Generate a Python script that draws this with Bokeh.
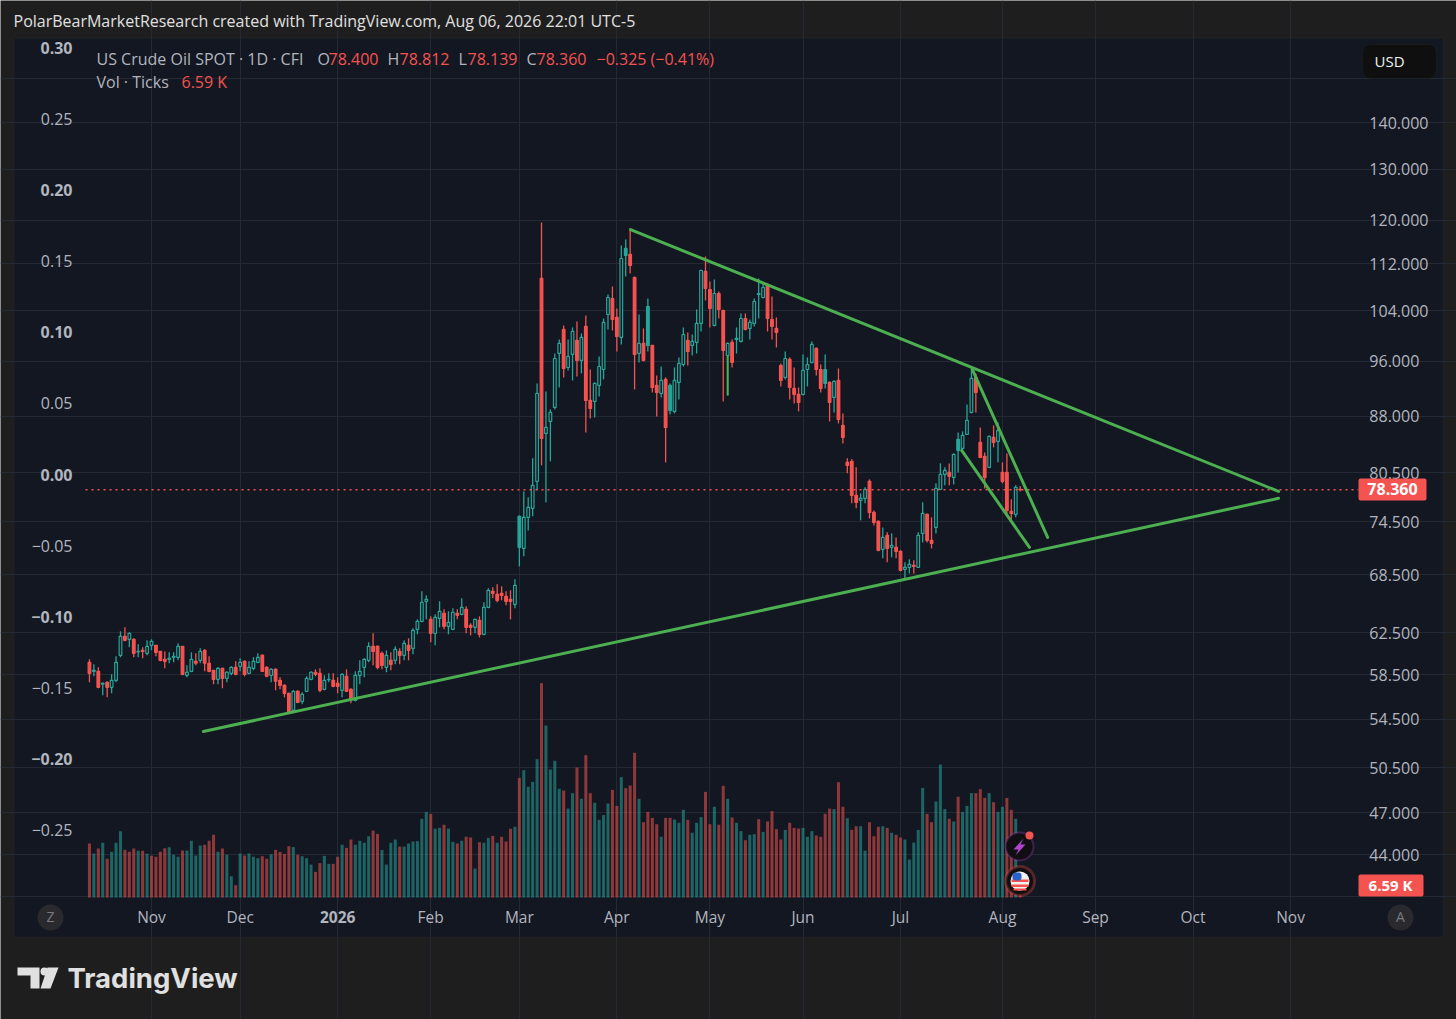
from bokeh.embed import file_html
from bokeh.resources import INLINE
from bokeh.plotting import figure
from bokeh.models import (ColumnDataSource, Range1d, LinearScale, LinearAxis, FixedTicker,
                          PrintfTickFormatter, BoxAnnotation, PolyAnnotation, Label)

opens = [59.64,58.80,58.80,57.61,57.79,57.33,57.97,60.30,62.14,61.85,
61.85,60.63,60.78,60.49,61.26,61.26,60.68,59.92,59.92,60.11,
60.11,61.17,58.43,58.80,59.73,59.83,60.78,59.55,58.89,58.06,
59.08,58.15,58.61,59.17,59.26,59.73,58.61,59.08,59.64,60.30,
59.17,58.43,58.98,57.97,57.51,56.79,55.28,56.97,56.07,56.97,
58.06,58.71,58.61,57.15,58.02,57.97,57.70,57.06,58.34,57.15,
56.16,58.43,59.17,59.83,61.17,61.17,60.49,59.17,59.83,59.83,
60.68,60.30,61.26,60.97,62.83,63.63,65.68,63.83,62.44,63.93,
64.44,63.13,62.83,64.44,64.34,64.85,63.23,63.03,63.73,62.34,
65.06,66.72,66.41,66.51,66.20,65.88,65.37,75.12,71.41,75.00,
76.08,79.39,109.41,85.64,87.28,89.23,97.18,100.94,95.05,97.03,
99.20,96.11,101.42,90.23,90.09,92.39,94.75,103.35,106.00,102.87,
99.67,114.73,113.64,109.58,97.18,98.73,104.67,98.42,92.39,91.23,
93.27,92.39,88.67,92.83,95.50,99.20,98.42,98.89,101.90,110.63,
107.52,101.58,106.84,104.01,96.87,98.89,99.36,99.04,102.70,101.10,
101.90,106.67,106.17,108.20,102.54,101.10,95.35,93.57,96.26,91.95,
91.09,91.09,94.75,95.81,97.95,94.75,94.75,92.83,90.66,93.12,
86.73,81.81,81.94,77.65,77.04,77.29,79.39,75.59,74.52,71.30,
72.89,71.53,71.53,71.08,69.08,69.30,69.52,69.30,73.12,75.36,
72.32,73.82,78.39,80.27,80.52,79.89,84.83,83.63,85.51,88.53,
93.57,84.43,82.59,81.17,85.10,84.57,80.52,80.52,75.71,75.36,
78.40]
closes = [58.61,58.89,57.33,57.70,57.33,57.97,59.64,62.14,61.75,62.44,
60.49,60.68,60.68,61.17,61.65,60.59,59.83,59.73,60.02,60.21,
61.17,58.52,58.71,59.92,59.55,60.68,59.55,58.80,58.06,59.08,
58.15,58.71,59.17,58.52,59.64,58.52,59.17,59.73,60.11,58.80,
58.34,58.98,57.88,57.51,56.79,55.10,56.97,55.98,56.70,58.15,
58.71,58.52,57.06,57.97,58.06,57.42,57.42,58.52,56.97,56.34,
58.43,58.80,59.92,61.17,60.68,59.17,59.36,60.30,59.45,60.88,
60.30,61.46,60.78,62.73,63.63,65.58,65.88,62.44,64.04,64.65,
63.13,63.53,64.55,64.24,65.06,63.03,63.03,63.83,62.34,65.06,
66.83,66.51,65.78,66.30,65.68,65.68,67.36,71.53,75.00,76.20,
78.89,91.23,84.97,86.46,88.53,96.41,98.73,94.90,96.72,100.62,
96.11,99.67,90.23,89.09,92.68,95.20,102.06,106.17,102.54,99.83,
112.92,113.46,111.68,97.03,98.73,96.11,98.42,92.09,91.37,93.12,
86.46,88.81,93.12,95.66,100.14,97.49,99.04,101.90,110.80,107.69,
104.34,106.84,104.18,97.64,98.73,95.81,99.51,102.70,100.94,102.06,
105.50,106.84,107.86,102.70,101.42,100.46,93.12,96.41,92.09,91.09,
89.94,94.61,95.50,98.58,94.75,91.95,92.68,89.94,92.97,87.56,
85.10,81.42,77.65,76.80,77.29,78.39,75.59,74.41,71.19,72.66,
71.41,71.75,71.08,68.97,69.30,69.63,69.41,72.89,75.47,72.32,
71.98,78.51,80.27,80.78,80.02,82.84,83.37,85.37,87.42,93.42,
91.37,82.46,79.89,85.24,84.43,86.05,79.39,75.83,75.47,78.64,
78.36]
highs = [59.92,59.45,59.17,57.79,57.88,58.52,60.21,62.63,63.03,62.53,
61.95,61.36,61.07,61.75,61.85,61.30,60.72,60.68,60.59,60.59,
61.46,61.20,59.36,60.59,60.49,60.97,60.88,60.21,58.93,59.17,
59.12,58.80,59.26,59.73,60.02,59.83,59.73,60.11,60.49,60.40,
59.26,59.08,59.08,58.25,57.61,56.85,57.06,57.06,56.88,58.34,
58.80,58.98,59.08,58.43,58.61,58.61,58.25,58.61,58.98,57.24,
58.80,59.83,60.02,61.56,62.44,61.26,60.68,60.78,60.59,61.17,
60.97,61.75,61.95,62.93,63.83,66.72,66.30,64.14,64.34,65.68,
64.85,64.65,64.95,64.85,65.99,65.16,63.43,63.93,64.14,65.58,
67.04,67.15,67.47,67.25,66.72,66.83,68.00,75.24,78.14,77.41,
82.33,92.68,119.53,91.52,88.95,97.18,99.36,101.58,99.36,101.26,
102.22,100.30,103.19,94.75,92.83,96.72,102.70,106.67,108.03,104.34,
115.27,116.36,118.40,109.76,103.35,101.10,106.00,98.50,93.86,95.20,
93.57,92.68,95.05,96.57,101.26,100.46,100.14,104.18,110.97,113.28,
108.89,109.24,107.18,104.18,98.89,99.36,101.26,103.52,103.52,102.54,
106.00,109.41,108.72,108.55,106.34,102.87,95.66,97.49,96.57,95.05,
92.09,97.03,96.57,99.04,98.11,95.50,97.03,92.97,93.12,94.90,
88.39,82.33,82.20,81.17,77.90,78.64,79.64,75.83,74.64,73.82,
73.24,73.12,72.66,71.19,69.85,70.18,70.07,73.24,76.80,75.47,
75.00,79.14,81.68,81.17,81.68,82.97,85.78,85.91,89.66,94.90,
94.16,86.46,83.11,85.37,86.73,87.14,81.81,82.97,77.17,78.89,
78.812]
lows = [57.79,58.34,57.24,56.61,56.43,56.79,57.79,60.11,61.65,61.07,
60.11,60.11,60.02,60.30,60.78,60.21,59.73,59.08,59.55,59.64,
59.83,58.43,58.25,58.71,59.36,59.55,58.80,58.71,57.61,57.61,
57.24,57.79,58.43,58.43,58.80,58.34,58.52,58.89,59.55,58.75,
58.25,57.79,57.06,57.15,56.43,55.02,55.19,55.90,55.81,56.90,
57.97,58.34,56.88,57.06,57.79,57.33,56.79,56.43,56.93,55.90,
56.07,57.61,58.25,59.64,59.36,58.98,58.98,58.71,58.89,59.45,
59.45,59.83,59.83,60.40,62.34,63.53,63.83,61.56,61.26,63.03,
62.83,62.34,62.73,63.83,64.24,62.44,62.24,62.44,62.04,62.24,
64.95,65.99,65.58,65.78,65.26,63.83,64.95,69.41,70.52,73.47,
75.12,78.27,81.42,76.80,81.94,88.95,92.09,93.57,94.61,93.12,
93.71,94.16,85.78,87.69,87.83,90.80,93.27,100.94,100.78,97.49,
98.58,109.76,110.28,91.80,95.81,95.96,97.49,91.37,87.97,90.66,
81.81,88.25,88.39,90.37,95.20,95.35,96.87,97.18,100.62,105.67,
101.26,101.42,102.70,90.09,90.94,95.05,97.18,98.89,100.78,99.36,
101.42,102.70,106.00,100.62,99.36,98.11,92.24,93.27,90.37,89.80,
88.67,90.94,92.24,95.66,93.86,91.37,91.95,87.28,88.53,87.00,
84.30,80.40,76.68,76.08,74.64,76.68,74.88,74.05,71.08,70.30,
69.85,70.41,70.30,68.86,68.00,68.64,68.64,69.25,72.09,72.09,
71.41,73.12,78.35,78.89,78.89,79.01,80.52,83.50,85.45,88.39,
88.53,82.33,78.51,81.04,83.77,81.81,79.14,75.47,74.76,75.00,
78.139]
# Days drawn as a filled teal body although the close is under the open
filled_up_days = [97, 121, 126, 131, 166, 196]

volumes_k = [29.7,24.2,26.9,30.1,21.3,25.1,30.1,36.5,26.2,25.1,
26.9,25.7,25.7,24.0,22.9,22.4,25.1,27.1,27.7,23.5,
22.4,25.8,25.8,31.2,23.1,28.6,29.0,31.2,34.5,25.1,
26.9,23.5,11.7,6.8,24.2,23.1,24.2,22.4,21.6,22.7,
21.3,23.8,26.2,25.1,24.0,28.2,27.7,23.5,22.7,21.6,
18.1,14.1,18.9,22.9,18.5,18.5,22.4,29.0,27.3,31.9,
29.0,31.2,30.1,33.7,36.8,35.0,26.2,18.1,30.1,31.9,
28.0,28.0,29.7,30.8,31.0,43.3,47.1,46.0,37.8,38.3,
40.0,37.9,30.6,29.7,31.2,33.4,33.0,15.9,30.4,30.1,
32.8,33.9,30.1,33.4,30.8,37.8,38.9,65.8,70.0,60.9,
63.6,76.1,117.9,94.6,70.4,75.2,59.8,58.8,48.9,57.4,
71.5,54.3,78.3,57.4,52.1,42.7,45.3,51.7,59.2,50.4,
66.2,60.1,61.6,79.6,54.3,41.4,47.1,43.8,40.3,33.4,
43.8,43.8,42.9,41.1,48.2,42.7,35.6,41.1,44.2,58.1,
40.3,49.9,40.0,61.4,54.3,44.0,41.1,36.5,31.5,34.5,
34.8,43.1,36.1,41.8,47.5,37.6,31.9,37.2,41.1,38.3,
37.9,38.3,33.4,36.5,34.1,33.4,46.0,48.9,48.6,63.4,
49.9,43.6,37.2,39.2,39.2,25.8,41.4,33.7,38.9,39.2,
38.3,35.6,34.5,33.0,31.9,20.9,30.2,37.2,60.3,46.0,
41.4,52.8,73.1,48.6,43.3,41.8,55.4,47.1,50.4,57.4,
57.4,59.6,54.8,57.4,52.4,47.1,49.9,54.8,48.2,43.3,
6.59]
volume_sides = ("RTRTRTTTRR" "RTRTRRRRTT" "TRTTTTRRRT" "RTTRTRTTTR" "RTRRRRTRTT" "TRRTTRRTRR" "TTTTRRTTTT"
                "RTTTTTTRTT" "RTTRTRRTRT" "TRTRRRTRTT" "TTRTTTTRTT" "RTRRTTTTRR" "TRRRTRRRRT" "RRTTTRTTTR"
                "RTRRTRTTRT" "TRTRRRRTRR" "RTTTRRRRTR" "RTRRTTRRRT" "RTRRTTTTTR" "RTTTRTRTTT" "RRRTRTTRRT" "R")

month_ticks = [14, 34, 77, 97, 119, 140, 161, 183, 206, 227, 249, 271]
month_labels = ["Nov", "Dec", "Feb", "Mar", "Apr", "May", "Jun", "Jul", "Aug", "Sep", "Oct", "Nov"]
year_tick = 56
year_label = "2026"
price_ticks = [140, 130, 120, 112, 104, 96, 88, 80.5, 74.5, 68.5, 62.5, 58.5, 54.5, 50.5, 47, 44]
unlabelled_price_grid = [150, 41.2]
left_ticks_light = [0.25, 0.15, 0.05, -0.05, -0.15, -0.25]
left_labels_light = ["0.25", "0.15", "0.05", "−0.05", "−0.15", "−0.25"]
left_ticks_bold = [0.30, 0.20, 0.10, 0.00, -0.10, -0.20]
left_labels_bold = ["0.30", "0.20", "0.10", "0.00", "−0.10", "−0.20"]

last_close = 78.36
rising_line = ([25.7, 268.3], [53.46, 77.29])
falling_line = ([122.1, 268.3], [118.2, 78.14])
wedge_upper = ([199.2, 216.2], [94.75, 72.66])
wedge_lower = ([196.8, 212.1], [83.37, 71.53])
green_wick = ([144, 144], [96.87, 90.94])

# The plotting frame fills the whole canvas, so the axes sit at fixed locations inside it
PANE_X = (-0.89, 286.3)
PANE_PRICE = (41.1, 159.9)

OUTER = "#1e1e1e"
PANEL = "#131722"
GRID = "#252934"
RED = "#f5534f"
TEAL = "#26a69a"
GREEN = "#4caf50"
TXT = "#b2b5be"
FONT = "Open Sans"

p = figure(width=1456, height=1019, output_backend="svg", toolbar_location=None,
           x_range=Range1d(-20.07, 308.45), y_range=Range1d(33.91, 169.78),
           y_axis_type="log", y_axis_location="right", x_axis_location="below",
           background_fill_color=OUTER, border_fill_color=OUTER, outline_line_color=None,
           min_border_left=0, min_border_right=0, min_border_top=0, min_border_bottom=0)
p.extra_y_ranges = {"spread": Range1d(-0.38277, 0.33302), "vol": Range1d(-67.1, 493.35)}
p.extra_y_scales = {"spread": LinearScale(), "vol": LinearScale()}


def box(l, t, r, b, fill, line=None, lw=1, radius=0, level="annotation"):
    a = BoxAnnotation(left=l, right=r, top=t, bottom=b,
                      left_units="canvas", right_units="canvas", top_units="canvas", bottom_units="canvas",
                      fill_color=fill, fill_alpha=1, line_color=line, line_width=lw,
                      border_radius=radius, level=level)
    p.add_layout(a)


def poly(xs, ys, fill):
    p.add_layout(PolyAnnotation(xs=xs, ys=ys, xs_units="canvas", ys_units="canvas",
                                fill_color=fill, fill_alpha=1, line_color=None))


def lab(x, y, text, color=TXT, size=16, align="left", weight="normal", font=FONT):
    p.add_layout(Label(x=x, y=y, x_units="canvas", y_units="canvas", text=text, text_color=color,
                       text_font=font, text_font_size=f"{size}px", text_align=align,
                       text_baseline="middle", text_font_style=weight))


box(13.5, 37.5, 1442.5, 936.5, PANEL, "#2e2e2e", 1, level="image")

# axes
ax_r = p.yaxis[0]
ax_r.ticker = FixedTicker(ticks=price_ticks)
ax_r.formatter = PrintfTickFormatter(format="%.3f")
ax_r.fixed_location = PANE_X[1]
ax_b = p.xaxis[0]
ax_b.ticker = FixedTicker(ticks=month_ticks)
ax_b.major_label_overrides = dict(zip(month_ticks, month_labels))
ax_b.fixed_location = PANE_PRICE[0]
ax_year = LinearAxis(ticker=FixedTicker(ticks=[year_tick]), major_label_overrides={year_tick: year_label},
                     fixed_location=PANE_PRICE[0])
p.add_layout(ax_year, "below")
ax_l = LinearAxis(y_range_name="spread", ticker=FixedTicker(ticks=left_ticks_light),
                  major_label_overrides=dict(zip(left_ticks_light, left_labels_light)),
                  fixed_location=PANE_X[0])
p.add_layout(ax_l, "left")
ax_l2 = LinearAxis(y_range_name="spread", ticker=FixedTicker(ticks=left_ticks_bold),
                   major_label_overrides=dict(zip(left_ticks_bold, left_labels_bold)),
                   fixed_location=PANE_X[0])
p.add_layout(ax_l2, "left")
for a in (ax_r, ax_b, ax_year, ax_l, ax_l2):
    a.axis_line_color = None
    a.major_tick_line_color = None
    a.minor_tick_line_color = None
    a.major_label_text_color = TXT
    a.major_label_text_font = FONT
    a.major_label_text_font_size = "16px"
ax_r.major_label_standoff = 5
ax_l.major_label_standoff = 7
ax_l2.major_label_standoff = 7
ax_b.major_label_standoff = 2
ax_year.major_label_standoff = 7
ax_b.major_label_text_font_size = "15.5px"
ax_year.major_label_text_font_size = "15.5px"
ax_year.major_label_text_font_style = "bold"
ax_l2.major_label_text_font_style = "bold"

p.xgrid[0].ticker = FixedTicker(ticks=sorted(month_ticks + [year_tick]))
p.ygrid[0].ticker = FixedTicker(ticks=price_ticks + unlabelled_price_grid)
p.xgrid[0].bounds = PANE_PRICE
p.ygrid[0].bounds = PANE_X
for g in (p.xgrid[0], p.ygrid[0]):
    g.grid_line_color = GRID
    g.grid_line_width = 1

# volume
n = len(closes)
idx = list(range(n))
p.vbar(x=idx, top=volumes_k, bottom=0, width=0.68, y_range_name="vol", line_color=None,
       fill_color=[RED if s == "R" else TEAL for s in volume_sides], fill_alpha=0.55)

# candles
up = [(c > o) or (i in filled_up_days) for i, (o, c) in enumerate(zip(opens, closes))]
hollow = [c > o for o, c in zip(opens, closes)]
col = [TEAL if u else RED for u in up]
src = ColumnDataSource(dict(x=idx, o=opens, c=closes, h=highs, l=lows, col=col,
                            fill=[PANEL if h else k for h, k in zip(hollow, col)]))
p.segment(x0="x", x1="x", y0="h", y1="l", color="col", line_width=1.3, source=src)
p.vbar(x="x", top="o", bottom="c", width=0.6, fill_color="fill", line_color="col", line_width=1.2, source=src)

# drawings
p.line(list(PANE_X), [last_close, last_close], line_color=RED, line_width=1.5, line_dash="2 4")
for xs, ys in (rising_line, falling_line, wedge_upper, wedge_lower):
    p.line(xs, ys, line_color=GREEN, line_width=3, line_cap="round")
p.line(*green_wick, line_color=GREEN, line_width=2)

# header, legend
lab(13, 20, "PolarBearMarketResearch created with TradingView.com, Aug 06, 2026 22:01 UTC-5", "#e0e0e0", 16)
lab(96, 58, "US Crude Oil SPOT · 1D · CFI", TXT)
for x, t, c in ((317, "O", TXT), (328, "78.400", RED), (387, "H", TXT), (399, "78.812", RED),
                (458, "L", TXT), (467, "78.139", RED), (526, "C", TXT), (536, "78.360", RED),
                (596, "−0.325 (−0.41%)", RED)):
    lab(x, 58, t, c)
lab(96, 81, "Vol · Ticks", TXT)
lab(181, 81, "6.59 K", RED)

# buttons, price pills
box(1362, 44, 1436, 78, "#0f0f0f", "#2e2e2e", 1, 8)
lab(1374, 60, "USD", "#f0f0f0", 15)
box(1358, 478, 1426, 500, RED, None, 0, 2)
lab(1392, 488, "78.360", "#ffffff", 16, "center", "bold")
box(1358, 874, 1423, 896, RED, None, 0, 2)
lab(1390, 884, "6.59 K", "#ffffff", 15, "center", "bold")
box(37, 904, 63, 930, "#2a2a2e", None, 0, 13)
lab(50, 916, "Z", "#777a82", 14, "center")
box(1387, 904, 1413, 930, "#2a2a2e", None, 0, 13)
lab(1400, 916, "A", "#777a82", 14, "center")

# economic event icons
box(1005, 832, 1033, 860, "#0f0f12", "#b044cc", 2, 14)
poly([1023, 1013, 1018, 1015, 1025, 1020], [838, 849, 849, 855, 844, 844], "#b044cc")
box(1025, 831, 1033, 839, RED, None, 0, 4)
box(1005, 866, 1034, 895, "#0f0f12", RED, 3, 15)
box(1010, 871, 1029, 890, "#f2f2f2", None, 0, 10)
for t in (879, 884):
    box(1011, t, 1028, t + 2.5, RED)
box(1013, 888, 1026, 890, RED)
box(1012, 872, 1021, 880, "#2a62c9", None, 0, 3)

# logo
poly([17, 39, 39, 30, 30, 17], [967, 967, 988, 988, 975, 975], "#e0e0e0")
box(40, 967, 48, 975, "#e0e0e0", None, 0, 4)
poly([47, 58, 50, 40], [967, 967, 988, 988], "#e0e0e0")
lab(67, 977, "TradingView", "#e0e0e0", 27.5, weight="bold", font="Inter")

html = file_html(p, INLINE)
open("out.html", "w").write(html)
